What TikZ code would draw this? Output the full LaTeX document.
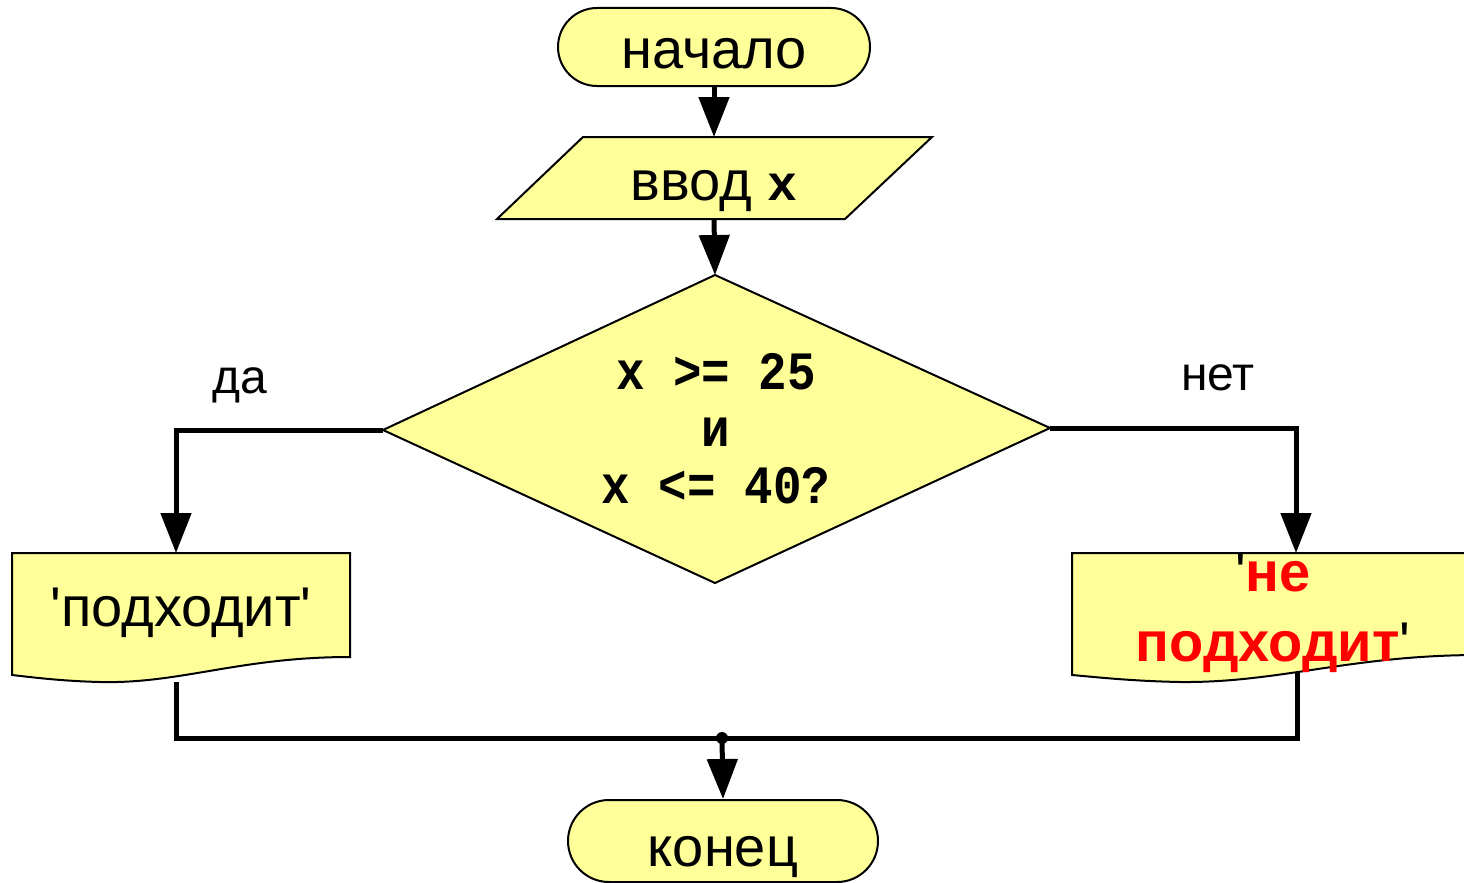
\documentclass[tikz,border=0pt]{standalone}
\usepackage{fontspec}
\setmainfont{Liberation Sans}
\newfontfamily\arial{Liberation Sans}
\newfontfamily\monofont{Liberation Mono}
\usetikzlibrary{arrows.meta,shapes.misc}
\definecolor{fillyel}{HTML}{FFFF99}
\definecolor{txtred}{HTML}{FF0000}
\begin{document}
\begin{tikzpicture}[x=1pt,y=-1pt,
  box/.style={draw=black, line width=2pt, fill=fillyel, line join=miter},
  term/.style={box, rounded rectangle, minimum width=312pt, minimum height=78pt, inner sep=0pt, text height=42pt, text depth=0pt, font=\arial\fontsize{56}{60}\selectfont},
  conn/.style={line width=5pt, -{Triangle[length=40pt,width=30pt]}},
  wire/.style={line width=5pt},
  lbl/.style={font=\arial\fontsize{48}{52}\selectfont, anchor=base},
  txt/.style={font=\arial\fontsize{56}{60}\selectfont, anchor=base},
  cond/.style={font=\monofont\bfseries\fontsize{54}{57}\selectfont, align=center},
]
\clip (0,0) rectangle (1464,883);
\fill[white] (0,0) rectangle (1464,883);

% terminals
\node[term] (start) at (714,47) {начало};
\node[term, minimum width=310pt, minimum height=82pt, text height=50pt] (end) at (723,841) {конец};

% input parallelogram
\draw[box] (497,219) -- (583,137) -- (932,137) -- (845,219) -- cycle;
\node[txt] (inp) at (714,200) {ввод {\monofont\bfseries\fontsize{50}{52}\selectfont x}};
\coordinate (inTop) at (714,137);
\coordinate (inBot) at (714,219);

% decision diamond
\draw[box] (715,275) coordinate (dT) -- (1050,428) coordinate (dR) -- (715,583) coordinate (dB) -- (383,430) coordinate (dL) -- cycle;
\node[cond] (test) at (716,429) {\scalebox{0.88}[1]{x >= 25}\\\scalebox{0.88}[1]{и}\\\scalebox{0.88}[1]{x <= 40?}};

% documents
\draw[box] (12,553) -- (350,553) -- (350,657) .. controls (240,657) and (180,684) .. (100,682) .. controls (60,681) and (30,677) .. (12,675) -- cycle;
\draw[box] (1072,553) -- (1480,553) -- (1480,655) .. controls (1350,655) and (1280,683) .. (1180,682) .. controls (1130,681) and (1095,677) .. (1072,675) -- cycle;
\node[txt] (ok) at (181,626) {'подходит'};
\node[font=\arial\bfseries\fontsize{56}{70}\selectfont, align=center] (notok) at (1273,613) {{\mdseries '}\textcolor{txtred}{не}\\\textcolor{txtred}{подходит}{\mdseries '}};
\coordinate (ldTop) at (176,553);
\coordinate (rdTop) at (1296,553);
\coordinate (ldBot) at (176,682);
\coordinate (rdBot) at (1297,672);
\coordinate (j) at (722,738);

% labels
\node[lbl] (yes) at (240,393) {да};
\node[lbl] (no) at (1218,390) {нет};

% connectors
\draw[conn] (start.south) -- (inTop);
\draw[conn] (inBot) -- (dT);
\draw[conn] (dL) -| (ldTop);
\draw[conn] (dR) -| (rdTop);
\draw[wire] (ldBot) |- (j) -| (rdBot);
\fill (j) circle (6);
\draw[conn] (j) -- (end.north);
\end{tikzpicture}
\end{document}
